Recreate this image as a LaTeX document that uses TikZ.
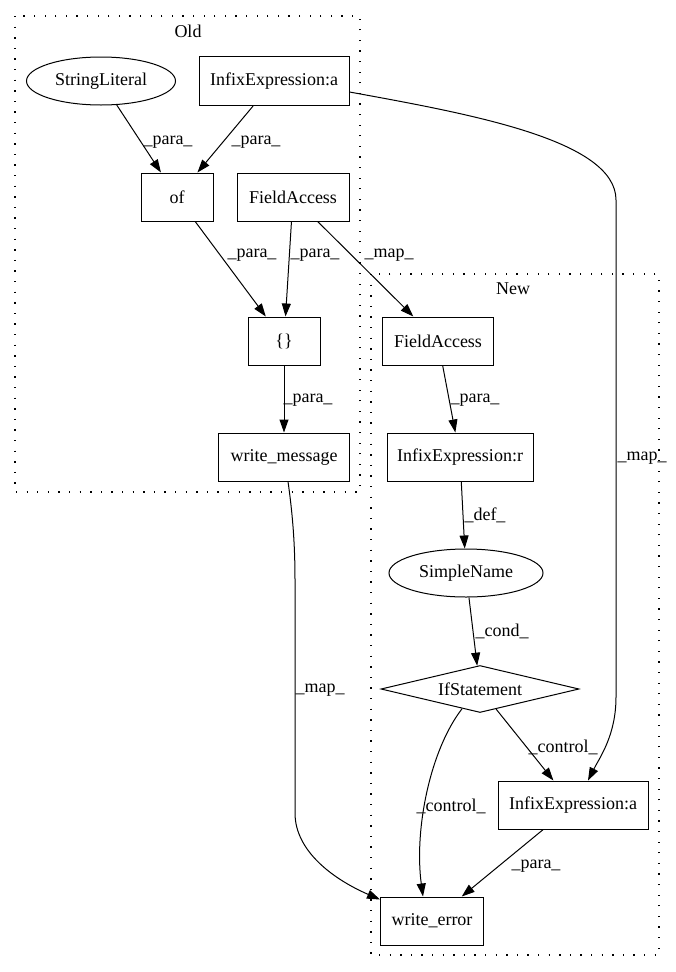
\documentclass[tikz,border=0pt]{standalone}
\usepackage{fontspec}
\setmainfont{Liberation Serif}
\usetikzlibrary{shapes.geometric,arrows.meta,calc}
\begin{document}
\begin{tikzpicture}[x=1pt,y=-1pt, font=\fontsize{18}{21}\selectfont,
  box/.style={draw, line width=1pt, rectangle, inner sep=0pt},
  oval/.style={draw, ellipse, line width=1pt, inner sep=0pt},
  dia/.style={draw, diamond, aspect=4.2, inner sep=0pt, line width=1pt},
  edge/.style={draw, line width=1pt, -{Triangle[length=13pt,width=9pt]}},
  lbl/.style={inner sep=0pt},
  cluster/.style={draw, line width=1.3pt, dash pattern=on 1.3pt off 9.3pt}]
\useasboundingbox (0,0) rectangle (675,972);
% clusters
\draw[cluster] (15,16) rectangle (360,492);
\node[lbl] (oldlbl) at (188,31) {Old};
\draw[cluster] (371,274) rectangle (659,955);
\node[lbl] (newlbl) at (513,289) {New};
% nodes
\node[oval, minimum width=149pt, minimum height=48pt] (SL) at (101,81) {StringLiteral};
\node[box, minimum width=150pt, minimum height=49pt] (IAo) at (274,81) {InfixExpression:a};
\node[box, minimum width=72pt, minimum height=48pt] (of) at (177,197) {of};
\node[box, minimum width=112pt, minimum height=48pt] (FAo) at (293,197) {FieldAccess};
\node[box, minimum width=72pt, minimum height=48pt] (br) at (284,341) {\{\}};
\node[box, minimum width=131pt, minimum height=48pt] (wm) at (284,457) {write\_message};
\node[box, minimum width=111pt, minimum height=48pt] (FAn) at (438,341) {FieldAccess};
\node[box, minimum width=146pt, minimum height=48pt] (IR) at (460,457) {InfixExpression:r};
\node[oval, minimum width=154pt, minimum height=48pt] (SN) at (466,573) {SimpleName};
\node[dia, minimum width=198pt, minimum height=47pt] (IF) at (480,689) {IfStatement};
\node[box, minimum width=150pt, minimum height=48pt] (IAn) at (573,805) {InfixExpression:a};
\node[box, minimum width=103pt, minimum height=48pt] (WE) at (432,921) {write\_error};
% edges
\draw[edge] (SL) -- (of) node[lbl] at (168,142) {\_para\_};
\draw[edge] (IAo) -- (of) node[lbl] at (256,142) {\_para\_};
\draw[edge] (of) -- (br) node[lbl] at (252,255) {\_para\_};
\draw[edge] (FAo) -- (br) node[lbl] at (315,255) {\_para\_};
\draw[edge] (FAo) -- (FAn) node[lbl] at (389,255) {\_map\_};
\draw[edge] (br) -- (wm) node[lbl] at (308,400) {\_para\_};
\draw[edge] (FAn) -- (IR) node[lbl] at (475,400) {\_para\_};
\draw[edge] (IR) -- (SN) node[lbl] at (485,515) {\_def\_};
\draw[edge] (SN) -- (IF) node[lbl] at (502,631) {\_cond\_};
\draw[edge] (IF) -- (IAn) node[lbl] at (563,747) {\_control\_};
\draw[edge] ($(IF.south)!0.18!(IF.west)$) .. controls (430,750) and (414,830) .. ([xshift=-9pt]WE.north)
  node[lbl] at (451,806) {\_control\_};
\draw[edge] (IAn) -- (WE) node[lbl] at (536,866) {\_para\_};
\draw[edge] ([yshift=-11pt]IAo.east) .. controls (470,114) and (616,140) .. (616,200)
  -- (616,697) .. controls (616,735) and (600,757) .. ([xshift=15pt]IAn.north)
  node[lbl] at (642,458) {\_map\_};
\draw[edge] ([xshift=4pt]wm.south) .. controls (292,510) and (295,540) .. (295,580)
  -- (295,813) .. controls (295,852) and (335,880) .. ([yshift=-3pt]WE.north west)
  node[lbl] at (320,690) {\_map\_};
\end{tikzpicture}
\end{document}
